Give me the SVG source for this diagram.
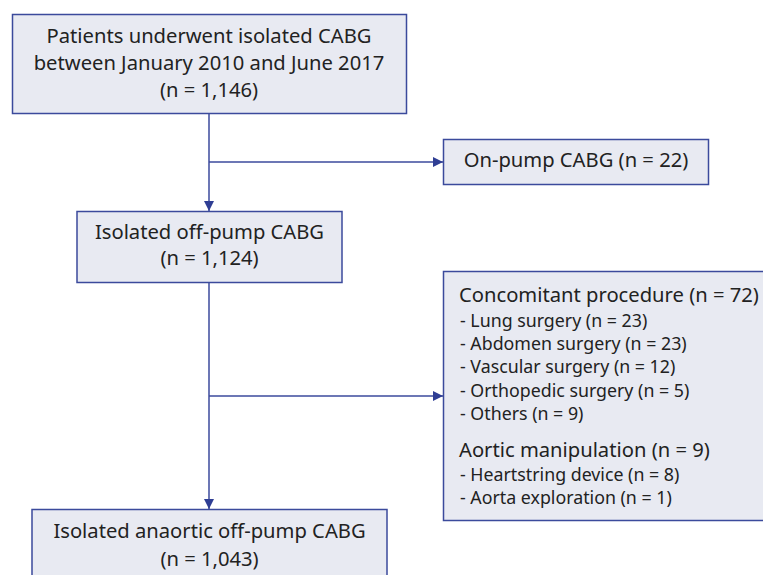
<svg xmlns="http://www.w3.org/2000/svg" width="763" height="575" viewBox="0 0 763 575">
<style>
.box{fill:#e8eaf2;stroke:#3b4a9c;stroke-width:1.5}
.t{font-family:"Noto Sans","Open Sans",sans-serif;font-size:20.2px;fill:#222;text-anchor:middle}
.l{font-family:"Noto Sans","Open Sans",sans-serif;font-size:20.2px;fill:#222}
.s{font-family:"Noto Sans","Open Sans",sans-serif;font-size:17.8px;fill:#222}
.c{stroke:#3b4a9c;stroke-width:1.5;fill:none}
</style>
<defs>
<marker id="ah" viewBox="0 0 10 10" refX="10" refY="5" markerWidth="10" markerHeight="10" markerUnits="userSpaceOnUse" orient="auto">
<path d="M0,0 L10,5 L0,10 Z" fill="#2f3e94"/>
</marker>
</defs>
<rect width="763" height="575" fill="#fff"/>
<g id="connectors">
<path class="c" d="M209,113 V211" marker-end="url(#ah)"/>
<path class="c" d="M209,162 H443" marker-end="url(#ah)"/>
<path class="c" d="M209,282 V509" marker-end="url(#ah)"/>
<path class="c" d="M209,396 H443" marker-end="url(#ah)"/>
</g>
<g id="n1">
<rect class="box" x="12.5" y="14.5" width="394" height="99"/>
<text class="t" x="209" y="43">Patients underwent isolated CABG</text>
<text class="t" x="209" y="70">between January 2010 and June 2017</text>
<text class="t" x="209" y="97">(n = 1,146)</text>
</g>
<g id="n2">
<rect class="box" x="443.5" y="139.5" width="265" height="45"/>
<text class="t" x="576" y="167">On-pump CABG (n = 22)</text>
</g>
<g id="n3">
<rect class="box" x="77" y="211.5" width="265" height="71"/>
<text class="t" x="209.5" y="239">Isolated off-pump CABG</text>
<text class="t" x="209.5" y="265">(n = 1,124)</text>
</g>
<g id="n4">
<rect class="box" x="443.5" y="271.5" width="322" height="249"/>
<text class="l" x="459" y="302">Concomitant procedure (n = 72)</text>
<text class="s" x="460" y="327">- Lung surgery (n = 23)</text>
<text class="s" x="460" y="350">- Abdomen surgery (n = 23)</text>
<text class="s" x="460" y="373">- Vascular surgery (n = 12)</text>
<text class="s" x="460" y="397">- Orthopedic surgery (n = 5)</text>
<text class="s" x="460" y="420">- Others (n = 9)</text>
<text class="l" x="459" y="457">Aortic manipulation (n = 9)</text>
<text class="s" x="460" y="481">- Heartstring device (n = 8)</text>
<text class="s" x="460" y="504">- Aorta exploration (n = 1)</text>
</g>
<g id="n5">
<rect class="box" x="32" y="509.5" width="355" height="80"/>
<text class="t" x="209.5" y="538">Isolated anaortic off-pump CABG</text>
<text class="t" x="209.5" y="566">(n = 1,043)</text>
</g>
</svg>
